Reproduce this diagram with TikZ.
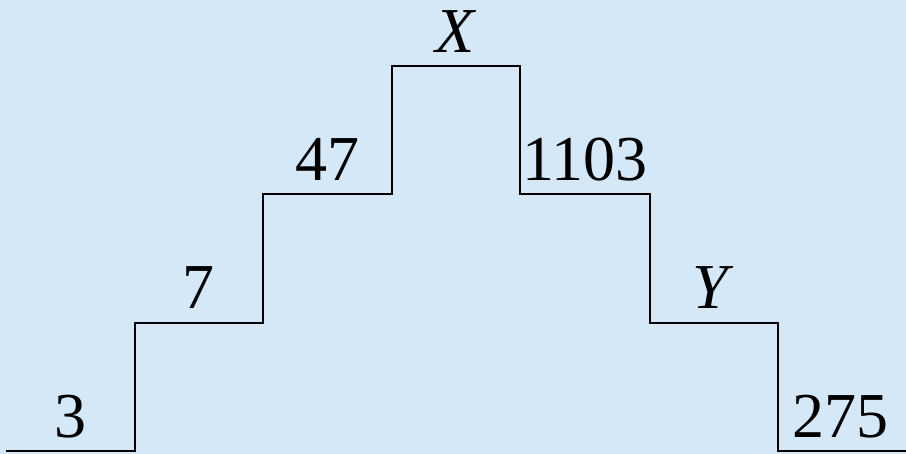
\documentclass[tikz,border=0pt]{standalone}
\usepackage{fontspec}
\setmainfont{Liberation Serif}
\definecolor{bg}{RGB}{213,232,248}
\begin{document}
\begin{tikzpicture}[x=1pt,y=-1pt,
  lbl/.style={anchor=base,inner sep=0pt,font=\fontsize{64}{64}\selectfont}]
\fill[bg] (0,0) rectangle (906,454);
\useasboundingbox (0,0) rectangle (906,454);
\draw[line width=2pt,line join=miter]
  (6,451) -- (135,451) -- (135,323) -- (263,323) -- (263,194) -- (392,194)
  -- (392,66) -- (520,66) -- (520,194) -- (650,194) -- (650,323)
  -- (778,323) -- (778,451) -- (906,451);
\node[lbl] (a) at (70,438) {3};
\node[lbl] (b) at (198,309) {7};
\node[lbl] (c) at (327,181) {47};
\node[lbl] (d) at (456,53) {\textit{X}};
\node[lbl] (e) at (585,181) {1103};
\node[lbl] (f) at (713,309) {\textit{Y}};
\node[lbl] (g) at (840,438) {275};
\end{tikzpicture}
\end{document}
